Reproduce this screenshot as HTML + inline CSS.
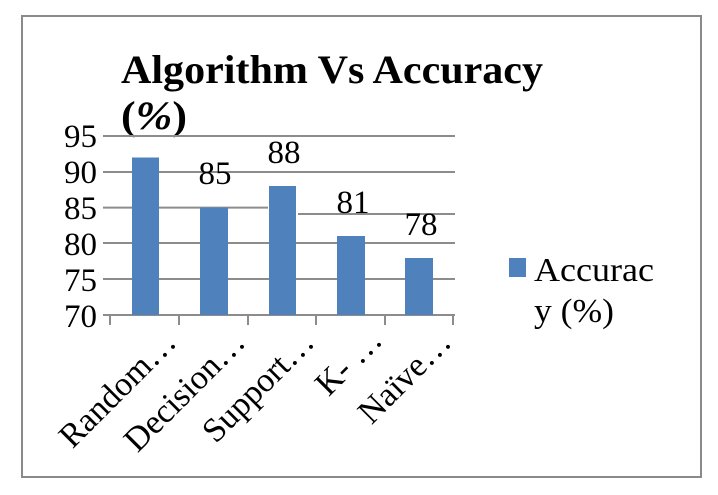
<!DOCTYPE html>
<html><head><meta charset="utf-8"><style>
html,body{margin:0;padding:0;background:#fff;}
svg{display:block;}
text{font-family:"Liberation Serif",serif;fill:#000;}
</style></head><body>
<svg width="718" height="495" viewBox="0 0 718 495">
<rect x="22" y="16" width="679" height="461" fill="#fff" stroke="#8a8a8a" stroke-width="2"/>
<text x="121" y="83" font-size="40" font-weight="bold" textLength="422" lengthAdjust="spacingAndGlyphs">Algorithm Vs Accuracy</text>
<text x="121" y="129" font-size="40" font-weight="bold" textLength="66" lengthAdjust="spacingAndGlyphs">(<tspan font-style="italic">%</tspan>)</text>
<g stroke="#8c8c8c" stroke-width="2">
<line x1="103" y1="136" x2="455" y2="136"/>
<line x1="103" y1="172" x2="455" y2="172"/>
<line x1="103" y1="207.6" x2="268" y2="207.6"/>
<line x1="298" y1="214" x2="455" y2="214"/>
<line x1="103" y1="243" x2="455" y2="243"/>
<line x1="103" y1="279" x2="455" y2="279"/>
<line x1="103" y1="315" x2="455" y2="315"/>
<line x1="110" y1="315" x2="110" y2="325"/>
<line x1="179" y1="315" x2="179" y2="325"/>
<line x1="248" y1="315" x2="248" y2="325"/>
<line x1="316" y1="315" x2="316" y2="325"/>
<line x1="385" y1="315" x2="385" y2="325"/>
<line x1="453" y1="315" x2="453" y2="325"/>
</g>
<g fill="#4f81bd">
<rect x="132" y="157.5" width="27" height="157.5"/>
<rect x="200" y="207.6" width="28" height="107.4"/>
<rect x="269" y="186" width="27" height="129"/>
<rect x="337" y="236" width="28" height="79"/>
<rect x="405" y="258" width="28" height="57"/>
</g>
<g font-size="33" text-anchor="end">
<text x="97" y="147">95</text>
<text x="97" y="183">90</text>
<text x="97" y="219">85</text>
<text x="97" y="255">80</text>
<text x="97" y="291">75</text>
<text x="97" y="327">70</text>
</g>
<g font-size="33" text-anchor="middle">
<text x="215" y="184">85</text>
<text x="284" y="163">88</text>
<text x="353" y="213">81</text>
<text x="421" y="235">78</text>
</g>
<g font-size="34" text-anchor="end">
<text transform="translate(178,344) rotate(-45)">Random…</text>
<text transform="translate(247,344) rotate(-45)">Decision…</text>
<text transform="translate(316,344) rotate(-45)">Support…</text>
<text transform="translate(384,342) rotate(-45)">K- …</text>
<text transform="translate(453,344) rotate(-45)">Naïve…</text>
</g>
<rect x="509" y="258" width="17" height="19" fill="#4f81bd"/>
<text x="534" y="281" font-size="34" textLength="120" lengthAdjust="spacingAndGlyphs">Accurac</text>
<text x="534" y="322" font-size="34" textLength="80" lengthAdjust="spacingAndGlyphs">y (%)</text>
</svg>
</body></html>
